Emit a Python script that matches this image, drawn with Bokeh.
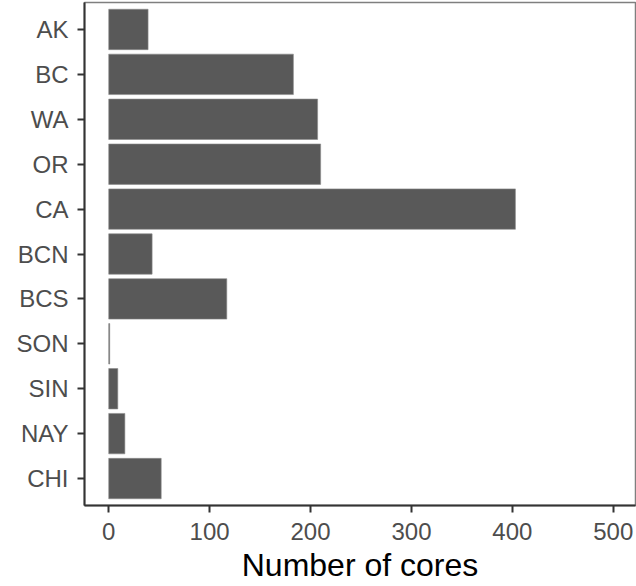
from bokeh.plotting import figure
from bokeh.models import ColumnDataSource, FactorRange, Range1d, FixedTicker
from bokeh.embed import file_html
from bokeh.resources import INLINE

# Sampling regions, listed top to bottom as shown on the axis
regions = ["AK", "BC", "WA", "OR", "CA", "BCN", "BCS", "SON", "SIN", "NAY", "CHI"]
# Number of cores collected per region
cores = [39, 183, 207, 210, 403, 43, 117, 1, 9, 16, 52]

x_ticks = [0, 100, 200, 300, 400, 500]

source = ColumnDataSource(data=dict(region=regions, cores=cores))

# Bokeh places the first factor at the bottom, so reverse the order
y_range = FactorRange(factors=list(reversed(regions)),
                      range_padding=0.1, range_padding_units="absolute")

p = figure(width=636, height=586, y_range=y_range,
           x_range=Range1d(-24, 522),
           output_backend="svg", toolbar_location=None,
           min_border_left=84, min_border_right=1,
           min_border_top=2, min_border_bottom=81)

p.hbar(y="region", left=0, right="cores", height=0.9, source=source,
       fill_color="#595959", line_color="#8c8c8c", line_width=0.6)

p.background_fill_color = "white"
p.border_fill_color = "white"
p.outline_line_color = "#7f7f7f"
p.outline_line_width = 1.5

p.xgrid.visible = False
p.ygrid.visible = False

font = "Liberation Sans"
for ax in (p.xaxis[0], p.yaxis[0]):
    ax.axis_line_color = "#333333"
    ax.axis_line_width = 2
    ax.major_tick_line_color = "#333333"
    ax.major_tick_line_width = 2
    ax.major_tick_out = 7
    ax.major_tick_in = 0
    ax.minor_tick_line_color = None
    ax.major_label_text_font = font
    ax.major_label_text_font_size = "24px"
    ax.major_label_text_color = "#4d4d4d"

p.xaxis.ticker = FixedTicker(ticks=x_ticks)
p.xaxis.major_label_standoff = 10
p.yaxis.major_label_standoff = 9

p.xaxis.axis_label = "Number of cores"
p.xaxis.axis_label_text_font = font
p.xaxis.axis_label_text_font_size = "32px"
p.xaxis.axis_label_text_font_style = "normal"
p.xaxis.axis_label_text_color = "black"
p.xaxis.axis_label_standoff = 4

open("out.html", "w").write(file_html(p, INLINE))
